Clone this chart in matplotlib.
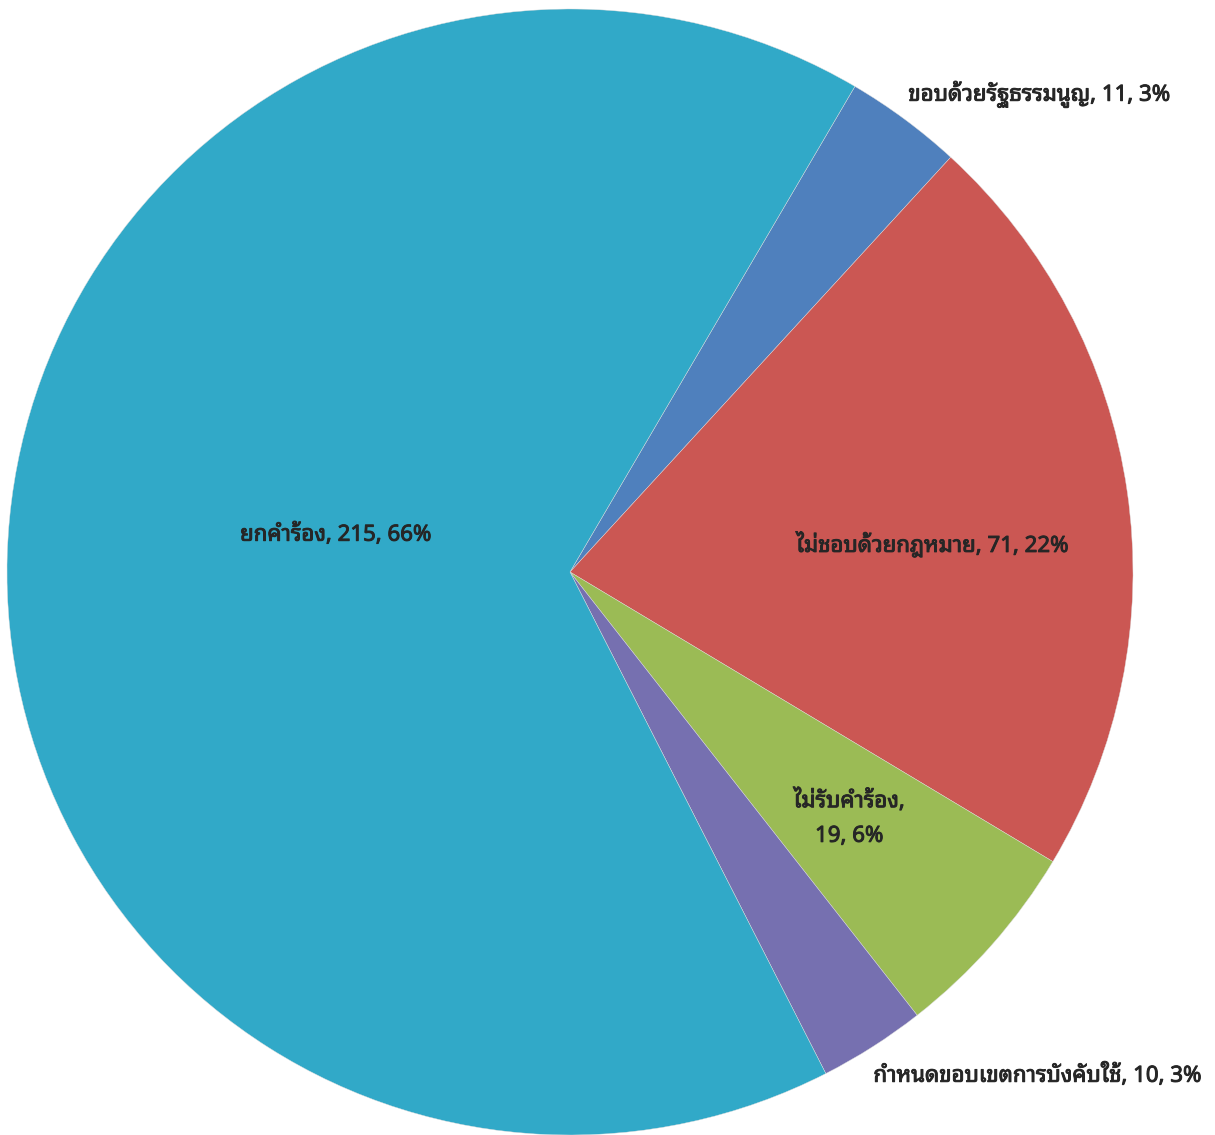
import matplotlib
matplotlib.use('Agg')
import matplotlib.pyplot as plt
import matplotlib.patheffects as pe

plt.rcParams['font.family'] = ['Noto Sans Thai Looped', 'DejaVu Sans']

# slices in drawing order (clockwise, starting just right of 12 o'clock)
labels = ['ขอบด้วยรัฐธรรมนูญ', 'ไม่ชอบด้วยกฎหมาย', 'ไม่รับคำร้อง',
          'กำหนดขอบเขตการบังคับใช้', 'ยกคำร้อง']
counts = [11, 71, 19, 10, 215]
percents = [3, 22, 6, 3, 66]
colors = ['#4f80bd', '#cb5753', '#9bbb55', '#7670b0', '#31a9c8']

fig = plt.figure(figsize=(12.15, 11.35), dpi=100)
ax = fig.add_axes([7 / 1215, 0, 1126 / 1215, 1126 / 1135])
ax.pie(counts, colors=colors, startangle=59.6, counterclock=False,
       radius=1, wedgeprops=dict(linewidth=0.3, edgecolor='#dddddd'))
ax.set_xlim(-1, 1)
ax.set_ylim(-1, 1)
ax.set_aspect('equal')
ax.axis('off')

# font has no real bold here, thicken it a bit with a stroke
bold = [pe.withStroke(linewidth=0.7, foreground='#262626')]
txt = dict(fontsize=16, color='#262626', path_effects=bold)
ax.text(-0.416, 0.068, f'{labels[4]}, {counts[4]}, {percents[4]}%', ha='center', va='center', **txt)
ax.text(0.644, 0.050, f'{labels[1]}, {counts[1]}, {percents[1]}%', ha='center', va='center', **txt)
ax.text(0.496, -0.436, f'{labels[2]},\n{counts[2]}, {percents[2]}%', ha='center', va='center',
        linespacing=1.85, **txt)
ax.text(0.601, 0.849, f'{labels[0]}, {counts[0]}, {percents[0]}%', ha='left', va='center', **txt)
ax.text(0.539, -0.893, f'{labels[3]}, {counts[3]}, {percents[3]}%', ha='left', va='center', **txt)

fig.savefig('out.png')
